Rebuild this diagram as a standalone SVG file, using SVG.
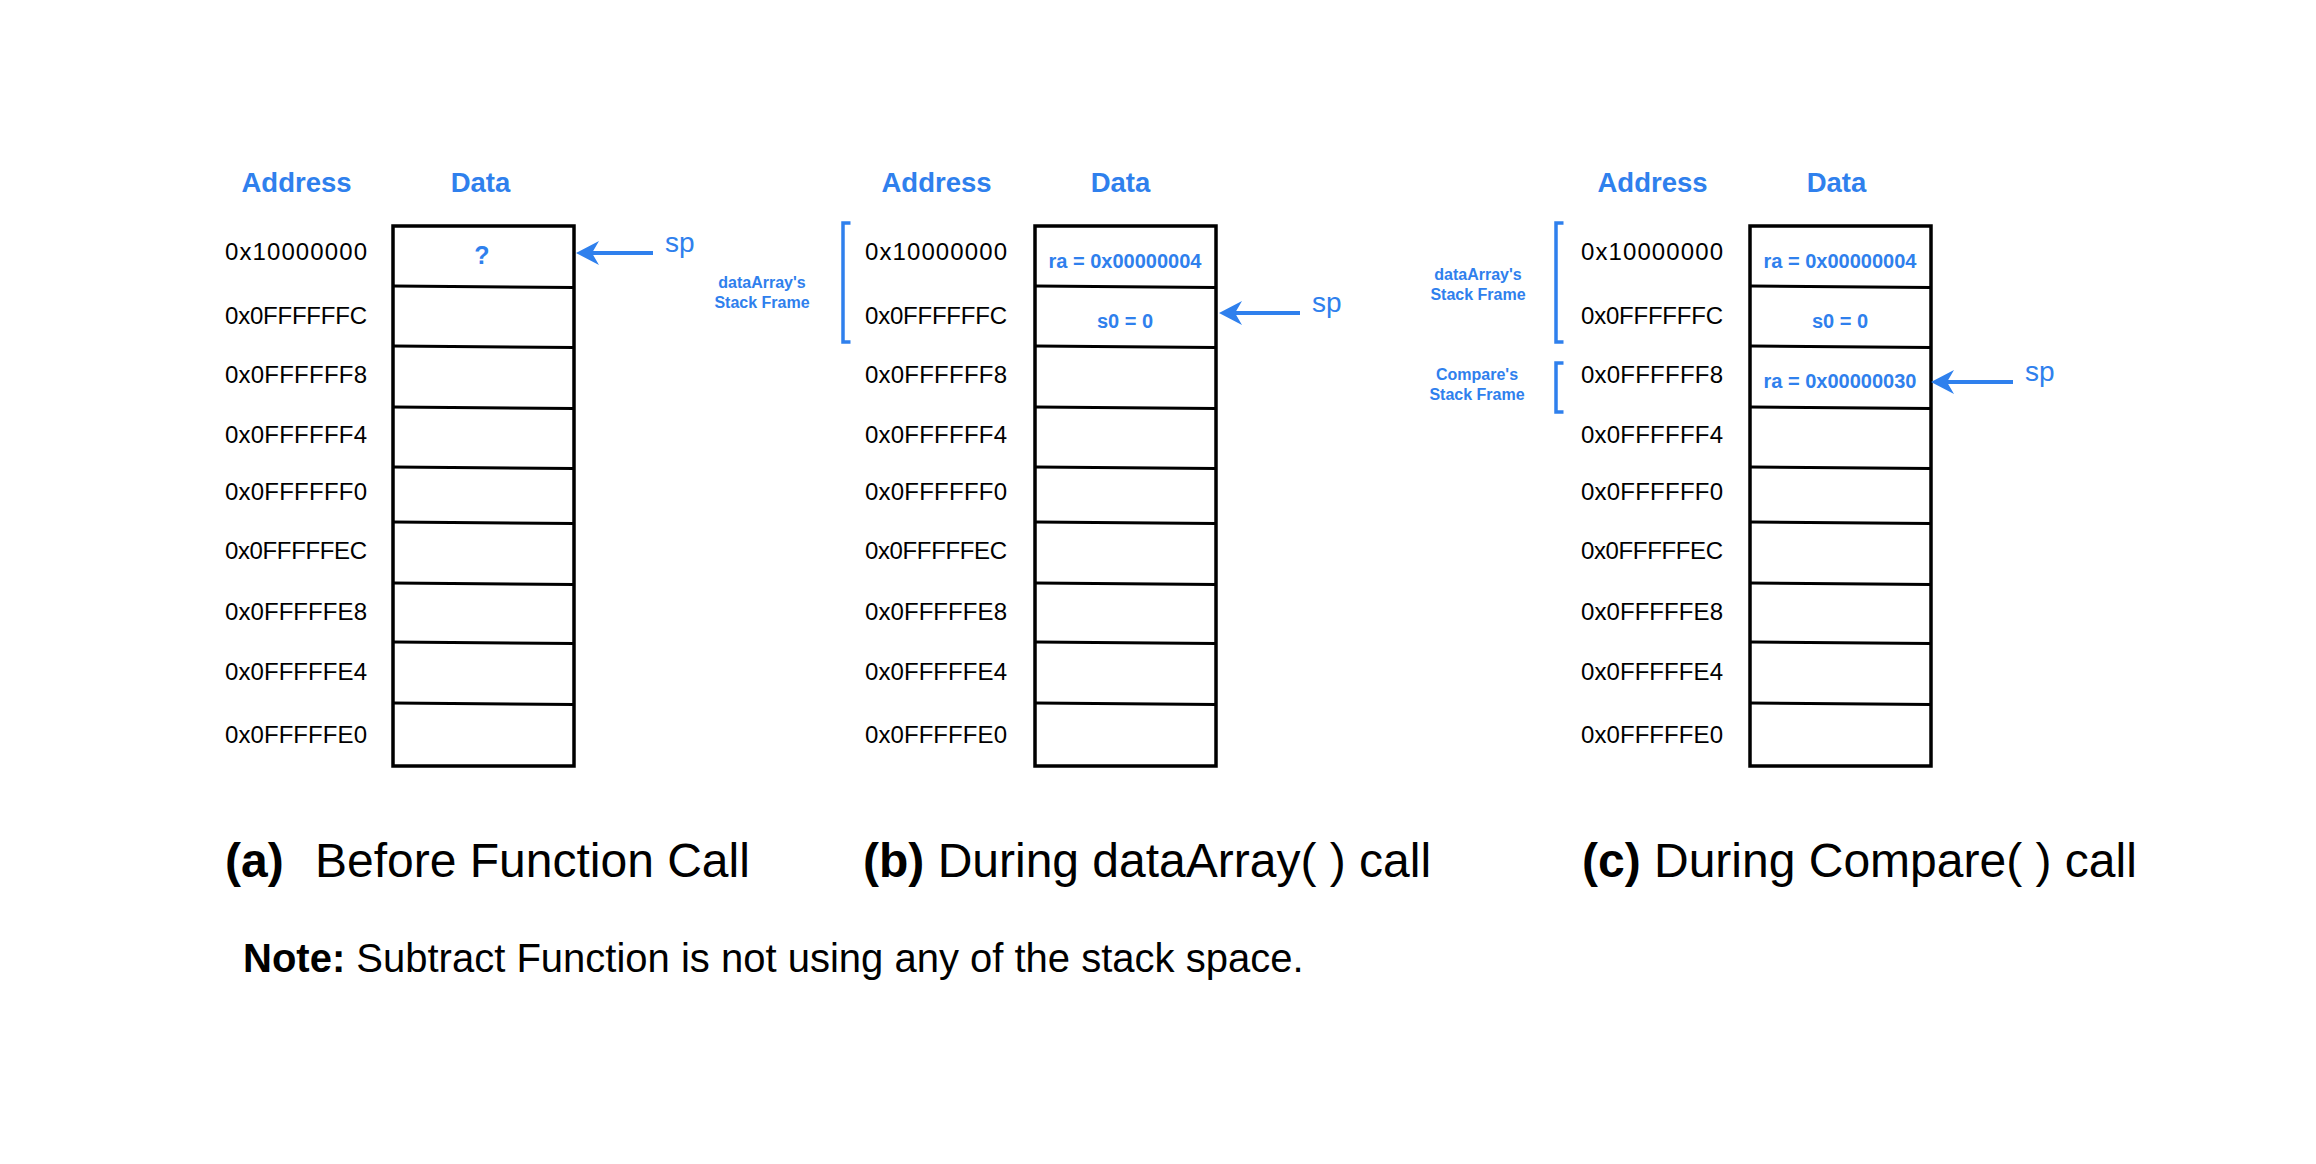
<svg xmlns="http://www.w3.org/2000/svg" width="2316" height="1164" viewBox="0 0 2316 1164">
<style>
.bg{fill:#ffffff}
.hdr{font-family:"Liberation Sans",Arial,sans-serif;font-weight:bold;font-size:27.5px;fill:#2f80ed;text-anchor:middle}
.addr{font-family:"Liberation Sans",Arial,sans-serif;font-size:24px;fill:#000000}
.box{fill:none;stroke:#000000;stroke-width:3.5}
.row{stroke:#000000;stroke-width:3;fill:none}
.val{font-family:"Liberation Sans",Arial,sans-serif;font-weight:bold;font-size:20px;fill:#2f80ed;text-anchor:middle}
.q{font-family:"Liberation Sans",Arial,sans-serif;font-weight:bold;font-size:25px;fill:#2f80ed;text-anchor:middle}
.frm{font-family:"Liberation Sans",Arial,sans-serif;font-weight:bold;font-size:16px;fill:#2f80ed;text-anchor:middle}
.brk{fill:none;stroke:#2f80ed;stroke-width:3.5}
.sp{font-family:"Liberation Sans",Arial,sans-serif;font-size:28px;fill:#2f80ed}
.arr{stroke:#2f80ed;stroke-width:4;fill:none}
.head{fill:#2f80ed}
.cap{font-family:"Liberation Sans",Arial,sans-serif;font-size:48px;fill:#000000}
.note{font-family:"Liberation Sans",Arial,sans-serif;font-size:40px;fill:#000000}
.b{font-weight:bold}
</style>
<defs>
<g id="stack">
<rect class="box" x="393" y="226" width="181" height="540"/>
<path class="row" d="M393,286 L574,287.5 M393,346 L574,347.5 M393,407 L574,408.5 M393,467 L574,468.5 M393,522 L574,523.5 M393,583 L574,584.5 M393,642 L574,643.5 M393,703 L574,704.5"/>
</g>
<g id="addrs">
<text class="addr" x="225" y="260" textLength="142" lengthAdjust="spacing">0x10000000</text>
<text class="addr" x="225" y="324" textLength="142" lengthAdjust="spacing">0x0FFFFFFC</text>
<text class="addr" x="225" y="383" textLength="142" lengthAdjust="spacing">0x0FFFFFF8</text>
<text class="addr" x="225" y="443" textLength="142" lengthAdjust="spacing">0x0FFFFFF4</text>
<text class="addr" x="225" y="500" textLength="142" lengthAdjust="spacing">0x0FFFFFF0</text>
<text class="addr" x="225" y="559" textLength="142" lengthAdjust="spacing">0x0FFFFFEC</text>
<text class="addr" x="225" y="620" textLength="142" lengthAdjust="spacing">0x0FFFFFE8</text>
<text class="addr" x="225" y="680" textLength="142" lengthAdjust="spacing">0x0FFFFFE4</text>
<text class="addr" x="225" y="743" textLength="142" lengthAdjust="spacing">0x0FFFFFE0</text>
</g>
<g id="hdrs">
<text class="hdr" x="296.5" y="192">Address</text>
<text class="hdr" x="480.5" y="192">Data</text>
</g>
</defs>
<rect class="bg" x="0" y="0" width="2316" height="1164"/>

<g id="panel-a">
<use href="#hdrs"/>
<use href="#addrs"/>
<use href="#stack"/>
<text class="q" x="482" y="264">?</text>
<text class="sp" x="665" y="252">sp</text>
</g>

<g id="panel-b">
<use href="#hdrs" transform="translate(640,0)"/>
<use href="#addrs" transform="translate(640,0)"/>
<use href="#stack" transform="translate(642,0)"/>
<text class="val" x="1125" y="268">ra = 0x00000004</text>
<text class="val" x="1125" y="328">s0 = 0</text>
<path class="brk" d="M850.5,223 H843 V342 H850.5"/>
<text class="frm" x="762" y="288">dataArray's</text>
<text class="frm" x="762" y="308">Stack Frame</text>
<text class="sp" x="1312" y="312">sp</text>
</g>

<g id="panel-c">
<use href="#hdrs" transform="translate(1356,0)"/>
<use href="#addrs" transform="translate(1356,0)"/>
<use href="#stack" transform="translate(1357,0)"/>
<text class="val" x="1840" y="268">ra = 0x00000004</text>
<text class="val" x="1840" y="328">s0 = 0</text>
<text class="val" x="1840" y="388">ra = 0x00000030</text>
<path class="brk" d="M1563.5,223 H1556 V342 H1563.5"/>
<text class="frm" x="1478" y="280">dataArray's</text>
<text class="frm" x="1478" y="300">Stack Frame</text>
<path class="brk" d="M1563.5,363 H1556 V412 H1563.5"/>
<text class="frm" x="1477" y="380">Compare's</text>
<text class="frm" x="1477" y="400">Stack Frame</text>
<text class="sp" x="2025" y="381">sp</text>
</g>

<g id="connectors">
<line class="arr" x1="653" y1="253" x2="590" y2="253"/>
<path class="head" d="M576,253 L599,241 L592,253 L599,265 Z"/>
<line class="arr" x1="1300" y1="313" x2="1234" y2="313"/>
<path class="head" d="M1219,313 L1242,301 L1235,313 L1242,325 Z"/>
<line class="arr" x1="2013" y1="382" x2="1946" y2="382"/>
<path class="head" d="M1931,382 L1954,370 L1947,382 L1954,394 Z"/>
</g>

<g id="captions">
<text class="cap" x="225" y="877"><tspan class="b">(a)</tspan></text>
<text class="cap" x="315" y="877">Before Function Call</text>
<text class="cap" x="863" y="877"><tspan class="b">(b)</tspan> During dataArray( ) call</text>
<text class="cap" x="1582" y="877"><tspan class="b">(c)</tspan> During Compare( ) call</text>
<text class="note" x="243" y="972"><tspan class="b">Note:</tspan> Subtract Function is not using any of the stack space.</text>
</g>
</svg>
